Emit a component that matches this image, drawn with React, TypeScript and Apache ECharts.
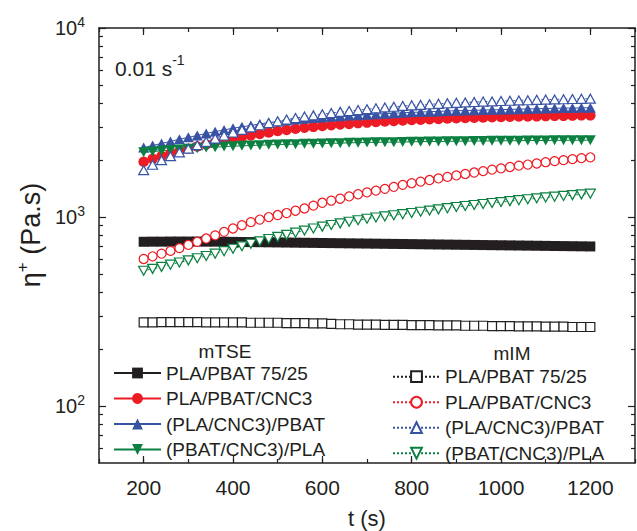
import React, { useEffect, useRef } from 'react';
import * as echarts from 'echarts';

const times = [200,220,240,260,280,300,320,340,360,380,400,420,440,460,480,500,520,540,560,580,600,620,640,660,680,700,720,740,760,780,800,820,840,860,880,900,920,940,960,980,1000,1020,1040,1060,1080,1100,1120,1140,1160,1180,1200];

const xMajorTicks = [200, 400, 600, 800, 1000, 1200];
const yMajorTicks = [100, 1000, 10000];
const yMinorTicks = [60,70,80,90,200,300,400,500,600,700,800,900,2000,3000,4000,5000,6000,7000,8000,9000];

const legendNames = ['PLA/PBAT 75/25', 'PLA/PBAT/CNC3', '(PLA/CNC3)/PBAT', '(PBAT/CNC3)/PLA'];

// mTSE (filled symbols)
const tseBlend = [740,741,741,742,742,742,742,741,741,740,739,738,737,736,735,734,733,732,731,730,729,728,727,726,725,724,723,722,721,720,719,718,717,716,715,714,713,712,711,710,709,708,707,706,705,704,703,702,701,700,699];
const tseCNC3 = [1960,2030,2100,2170,2230,2300,2360,2420,2480,2540,2600,2650,2700,2750,2800,2850,2890,2930,2970,3000,3030,3060,3090,3110,3140,3160,3180,3200,3220,3240,3260,3270,3290,3300,3320,3330,3340,3350,3360,3370,3380,3390,3400,3400,3410,3420,3430,3430,3440,3450,3450];
const tsePLACNC = [2330,2390,2450,2510,2580,2640,2700,2770,2830,2890,2950,3000,3050,3110,3160,3200,3240,3280,3310,3340,3360,3390,3410,3440,3460,3480,3500,3520,3540,3560,3580,3590,3610,3620,3640,3650,3660,3670,3680,3690,3700,3710,3720,3730,3740,3750,3760,3770,3770,3780,3790];
const tsePBATCNC = [2200,2220,2240,2260,2280,2300,2310,2330,2340,2360,2370,2380,2390,2400,2410,2420,2425,2430,2440,2445,2450,2455,2460,2470,2475,2480,2485,2490,2490,2495,2500,2505,2510,2510,2515,2520,2520,2525,2525,2530,2530,2535,2535,2540,2540,2540,2545,2545,2550,2550,2550];

// mIM (open symbols)
const imBlend = [277,277,278,278,278,278,278,277,277,277,277,277,276,276,276,276,275,275,275,274,274,272,271,271,270,270,270,269,269,269,268,268,268,267,267,267,266,266,266,265,265,265,264,264,264,263,263,263,262,262,262];
const imCNC3 = [600,620,640,662,685,712,740,770,800,835,870,905,940,970,1000,1025,1050,1080,1110,1150,1190,1220,1250,1285,1320,1350,1380,1410,1445,1480,1510,1540,1570,1600,1630,1660,1690,1720,1750,1780,1810,1840,1870,1895,1920,1950,1975,2000,2025,2050,2070];
const imPLACNC = [1770,1890,2000,2100,2200,2300,2400,2500,2600,2700,2800,2890,2980,3060,3140,3210,3280,3340,3400,3450,3500,3550,3600,3640,3680,3720,3760,3800,3830,3870,3900,3920,3950,3970,4000,4020,4040,4060,4080,4090,4110,4120,4140,4150,4170,4180,4190,4200,4210,4220,4230];
const imPBATCNC = [520,532,545,560,575,590,605,622,640,660,680,700,722,744,765,785,805,827,848,870,890,908,926,944,962,980,994,1008,1022,1036,1050,1066,1082,1098,1114,1130,1144,1158,1172,1186,1200,1214,1228,1242,1256,1270,1282,1294,1306,1318,1330];

const BLACK = '#231f20';
const RED = '#ed1c24';
const BLUE = '#3853a4';
const GREEN = '#0b8040';
const FONT = '"Liberation Sans", Arial, Helvetica, sans-serif';
const DOWN_TRI = 'path://M0,0L10,0L5,9Z';

function mk(name: string, values: number[], symbol: string, size: any, color: string, filled: boolean) {
  return {
    type: 'line',
    name,
    data: times.map((t, i) => [t, values[i]]),
    symbol,
    symbolSize: size,
    showSymbol: true,
    showAllSymbol: true,
    xAxisIndex: 0,
    yAxisIndex: 0,
    lineStyle: { color, width: 1, type: filled ? 'solid' : [2, 2] },
    itemStyle: filled ? { color } : { color: '#ffffff', borderColor: color, borderWidth: 1.2 },
    emphasis: { disabled: true },
    z: 2,
  };
}

export default function App() {
  const ref = useRef<HTMLDivElement>(null);
  useEffect(() => {
    if (!ref.current) return;
    const chart = echarts.init(ref.current, undefined, { renderer: 'svg' });
    const tick = (len: number, values?: number[]) => ({
      show: true, inside: true, length: len,
      lineStyle: { color: BLACK, width: 1.2 },
      ...(values ? { customValues: values } : {}),
    });
    const line = { show: true, onZero: false, lineStyle: { color: BLACK, width: 1.5 } };
    const noLine = { show: false, onZero: false };
    const xBase = { type: 'value', min: 100, max: 1300, interval: 100, gridIndex: 0, splitLine: { show: false } };
    const yBase = { type: 'log', logBase: 10, min: 50, max: 10000, gridIndex: 0, splitLine: { show: false }, minorTick: { show: false } };
    const yLabel = {
      show: true,
      customValues: yMajorTicks,
      margin: 14,
      formatter: (v: number) => '{b|10}{s|' + Math.round(Math.log10(v)) + '}',
      rich: {
        b: { fontSize: 20, lineHeight: 26, color: BLACK, fontFamily: FONT },
        s: { fontSize: 14, lineHeight: 14, color: BLACK, fontFamily: FONT, verticalAlign: 'top' },
      },
    };
    const series = [
      mk('mTSE ' + legendNames[0], tseBlend, 'rect', 10, BLACK, true),
      mk('mTSE ' + legendNames[1], tseCNC3, 'circle', 10.5, RED, true),
      mk('mTSE ' + legendNames[2], tsePLACNC, 'triangle', [11, 10], BLUE, true),
      mk('mTSE ' + legendNames[3], tsePBATCNC, DOWN_TRI, [11, 10], GREEN, true),
      mk('mIM ' + legendNames[0], imBlend, 'rect', 9, BLACK, false),
      mk('mIM ' + legendNames[1], imCNC3, 'circle', 9, RED, false),
      mk('mIM ' + legendNames[2], imPLACNC, 'triangle', [10, 9], BLUE, false),
      mk('mIM ' + legendNames[3], imPBATCNC, DOWN_TRI, [10, 9], GREEN, false),
    ];
    const legendCommon = {
      orient: 'vertical',
      padding: 0,
      itemWidth: 47,
      itemHeight: 13.5,
      itemGap: 5.5,
      selectedMode: false,
      textStyle: { fontSize: 19, lineHeight: 20, color: BLACK, fontFamily: FONT },
      formatter: (n: string) => n.replace(/^m(TSE|IM) /, ''),
    };
    chart.setOption({
      animation: false,
      backgroundColor: '#ffffff',
      textStyle: { fontFamily: FONT, color: BLACK },
      grid: { left: 99, right: 2, top: 28, bottom: 68, containLabel: false, outerBoundsMode: 'none' },
      xAxis: [
        { ...xBase, position: 'bottom', axisLine: line, axisTick: tick(4),
          axisLabel: { show: true, customValues: xMajorTicks, fontSize: 21, color: BLACK, margin: 14, fontFamily: FONT,
            formatter: (v: number) => String(v) } },
        { ...xBase, position: 'bottom', axisLine: noLine, axisTick: tick(7, xMajorTicks), axisLabel: { show: false } },
        { ...xBase, position: 'top', axisLine: line, axisTick: tick(4), axisLabel: { show: false } },
        { ...xBase, position: 'top', axisLine: noLine, axisTick: tick(7, xMajorTicks), axisLabel: { show: false } },
      ],
      yAxis: [
        { ...yBase, position: 'left', axisLine: line, axisTick: tick(7, yMajorTicks), axisLabel: yLabel },
        { ...yBase, position: 'left', axisLine: noLine, axisTick: tick(4, yMinorTicks), axisLabel: { show: false } },
        { ...yBase, position: 'right', axisLine: line, axisTick: tick(7, yMajorTicks), axisLabel: { show: false } },
        { ...yBase, position: 'right', axisLine: noLine, axisTick: tick(4, yMinorTicks), axisLabel: { show: false } },
      ],
      legend: [
        { ...legendCommon, left: 113, top: 363, data: series.slice(0, 4).map((s) => s.name) },
        { ...legendCommon, left: 392, top: 366.7, data: series.slice(4).map((s) => s.name) },
      ],
      graphic: [
        { type: 'text', left: 115, top: 53, style: {
          text: '{a|0.01 s}{s|-1}',
          rich: {
            a: { fontSize: 21, lineHeight: 30, fill: BLACK, fontFamily: FONT },
            s: { fontSize: 14, lineHeight: 14, fill: BLACK, fontFamily: FONT, verticalAlign: 'top' },
          } } },
        { type: 'text', x: 225, y: 351, style: { text: 'mTSE', fontSize: 19, fill: BLACK, fontFamily: FONT, textAlign: 'center', textVerticalAlign: 'middle' } },
        { type: 'text', x: 512, y: 353, style: { text: 'mIM', fontSize: 19, fill: BLACK, fontFamily: FONT, textAlign: 'center', textVerticalAlign: 'middle' } },
        { type: 'text', x: 367, y: 518, style: { text: 't (s)', fontSize: 22, fill: BLACK, fontFamily: FONT, textAlign: 'center', textVerticalAlign: 'middle' } },
        { type: 'text', x: 31, y: 235, rotation: Math.PI / 2, style: {
          text: '{a|η}{s|+}{a| (Pa.s)}',
          textAlign: 'center', textVerticalAlign: 'middle',
          rich: {
            a: { fontSize: 27, lineHeight: 34, fill: BLACK, fontFamily: FONT },
            s: { fontSize: 17, lineHeight: 17, fill: BLACK, fontFamily: FONT, verticalAlign: 'top' },
          } } },
      ],
      series,
    });
    return () => chart.dispose();
  }, []);
  return <div ref={ref} style={{ position: 'fixed', left: 0, top: 0, width: 637, height: 531 }} />;
}
